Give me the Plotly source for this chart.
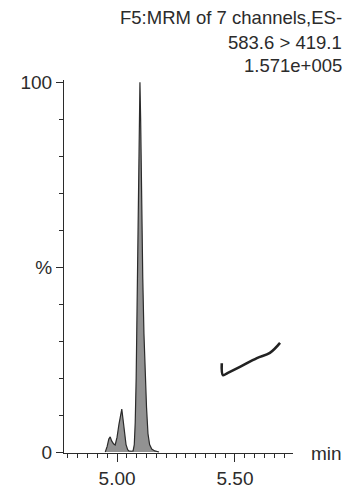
import plotly.graph_objects as go

# Chromatogram (time in min, relative intensity in %)
times = [4.950, 4.958, 4.965, 4.971, 4.977, 4.985, 4.992, 5.000, 5.008, 5.015, 5.020,
         5.025, 5.031, 5.038, 5.045, 5.050, 5.060, 5.068,
         5.073, 5.077, 5.081, 5.085, 5.089, 5.093, 5.097, 5.100, 5.104, 5.109, 5.114,
         5.119, 5.125, 5.131, 5.138, 5.147, 5.160, 5.178]
intensity = [0.0, 1.5, 3.5, 4.1, 3.0, 2.2, 1.9, 4.0, 7.5, 10.5, 11.6,
             9.0, 5.0, 2.0, 0.6, 0.3, 0.2, 0.3,
             2.0, 8.0, 20.0, 40.0, 62.0, 84.0, 100.0, 90.0, 68.0, 47.0, 32.0,
             21.0, 12.0, 5.0, 2.0, 0.8, 0.3, 0.0]

# Pen stroke on the chart
mark_t = [5.444, 5.449, 5.470, 5.521, 5.593, 5.648, 5.691]
mark_y = [24.0, 20.8, 21.4, 23.0, 25.4, 26.8, 29.5]

x_major = [5.00, 5.50]
x_major_text = ["5.00", "5.50"]
y_major = [0, 50, 100]
y_major_text = ["0", "%", "100"]

header = ["F5:MRM of 7 channels,ES-", "583.6 &gt; 419.1", "1.571e+005"]

ink = "#2b2b2b"
font = "Liberation Sans, Arial, sans-serif"

PLOT_W = 229
PLOT_H = 373

fig = go.Figure()
fig.add_trace(go.Scatter(x=times, y=intensity, mode="lines", fill="tozeroy",
                         fillcolor="#929292", line=dict(color=ink, width=1.2),
                         hoverinfo="skip", showlegend=False))
fig.add_trace(go.Scatter(x=mark_t, y=mark_y, mode="lines",
                         line=dict(color="#222222", width=2.6, shape="spline"),
                         hoverinfo="skip", showlegend=False))

fig.update_layout(
    width=345, height=488,
    margin=dict(l=64, r=52, t=80, b=35),
    paper_bgcolor="white", plot_bgcolor="white",
    font=dict(family=font, size=18, color=ink),
    xaxis=dict(range=[4.775, 5.746], showgrid=False, zeroline=False, automargin=False,
               showline=True, linecolor=ink, linewidth=1.2,
               tickmode="array", tickvals=x_major, ticktext=x_major_text,
               ticks="outside", ticklen=8, tickwidth=1.2, tickcolor=ink,
               tickfont=dict(size=19, color=ink),
               minor=dict(tick0=5.0, dtick=0.5 / 12, ticks="outside", ticklen=4,
                          tickwidth=1, tickcolor=ink, showgrid=False)),
    yaxis=dict(range=[-0.27, 100.6], showgrid=False, zeroline=False, automargin=False,
               showline=True, linecolor=ink, linewidth=1.2,
               tickmode="array", tickvals=y_major, ticktext=y_major_text,
               ticks="outside", ticklen=7, tickwidth=1.2, tickcolor=ink,
               tickfont=dict(size=19, color=ink),
               minor=dict(tick0=0, dtick=10, ticks="outside", ticklen=4,
                          tickwidth=1, tickcolor=ink, showgrid=False)),
)

header_offsets = [62, 37, 14]  # pixels above the plot top
for txt, off in zip(header, header_offsets):
    fig.add_annotation(text=txt, xref="paper", yref="paper", x=1.0 + 51 / PLOT_W,
                       xanchor="right", y=1.0 + off / PLOT_H, yanchor="middle",
                       showarrow=False, font=dict(size=18.5, color=ink, family=font))

fig.add_annotation(text="min", xref="paper", yref="paper", x=1.0 + 16 / PLOT_W,
                   xanchor="left", y=0.0, yanchor="middle", showarrow=False,
                   font=dict(size=19, color=ink, family=font))

fig.write_html(
    "out.html",
    config={"displayModeBar": False},
    post_script="document.body.style.margin='0';document.body.style.overflow='hidden';",
)
